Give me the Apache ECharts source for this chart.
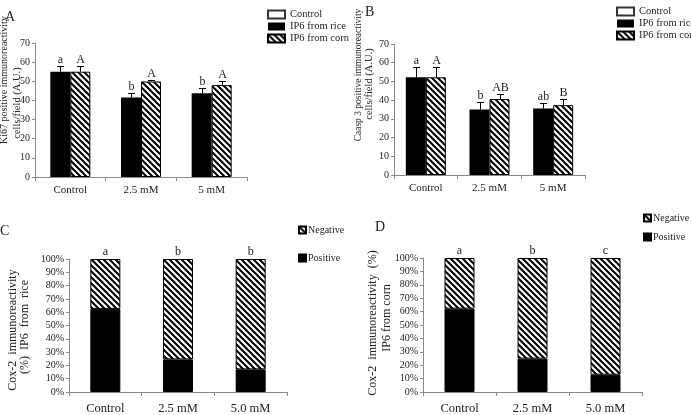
<!DOCTYPE html>
<html>
<head>
<meta charset="utf-8">
<script src="https://cdn.jsdelivr.net/npm/echarts@6/dist/echarts.min.js"></script>
<style>
html, body { margin: 0; padding: 0; background: #fff; }
#chart { width: 691px; height: 415px; }
</style>
</head>
<body>
<div id="chart"></div>
<script>
// categories
var doseAB = ['Control', '2.5 mM', '5 mM'];
var doseCD = ['Control', '2.5 mM', '5.0 mM'];

// A: Ki67 positive cells/field
var riceA = [55, 41.5, 43.8];
var riceErrA = [2.9, 2.4, 2.6];
var cornA = [55, 49.9, 48];
var cornErrA = [2.9, 0.9, 2.4];
var riceLetA = ['a', 'b', 'b'];
var cornLetA = ['A', 'A', 'A'];

// B: Casp 3 positive cells/field
var riceB = [52.2, 35, 35.5];
var riceErrB = [5.6, 3.9, 3.1];
var cornB = [52.2, 40.6, 37.3];
var cornErrB = [5.6, 2.5, 3.3];
var riceLetB = ['a', 'b', 'ab'];
var cornLetB = ['A', 'AB', 'B'];

// C: Cox-2, IP6 from rice (%)
var posC = [62.5, 24.5, 17];
var negC = [37.5, 75.5, 83];
var letC = ['a', 'b', 'b'];

// D: Cox-2, IP6 from corn (%)
var posD = [62.2, 24.9, 12.9];
var negD = [37.8, 75.1, 87.1];
var letD = ['a', 'b', 'c'];

var serif = 'Liberation Serif';
var ink = '#222';
var axisGrey = '#8a8a8a';

function makeHatch() {
    var c = document.createElement('canvas');
    c.width = 6;
    c.height = 6;
    var ctx = c.getContext('2d');
    ctx.fillStyle = '#fff';
    ctx.fillRect(0, 0, 6, 6);
    ctx.strokeStyle = '#000';
    ctx.lineWidth = 2;
    ctx.beginPath();
    ctx.moveTo(-1, -1); ctx.lineTo(7, 7);
    ctx.moveTo(-1, 5); ctx.lineTo(1, 7);
    ctx.moveTo(5, -1); ctx.lineTo(7, 1);
    ctx.stroke();
    return c;
}
var hatch = { image: makeHatch(), repeat: 'repeat' };

// upward error bar + significance letter
function errSeries(gi, means, errs, letters, side, barW) {
    return {
        type: 'custom',
        xAxisIndex: gi,
        yAxisIndex: gi,
        z: 5,
        silent: true,
        data: means.map(function (m, i) { return [i, m, errs[i]]; }),
        renderItem: function (params, api) {
            var base = api.coord([api.value(0), api.value(1)]);
            var top = api.coord([api.value(0), api.value(1) + api.value(2)]);
            var x = Math.round(base[0] + side * barW / 2) + 0.5;
            var yt = Math.round(top[1]) + 0.5;
            return {
                type: 'group',
                children: [
                    { type: 'line', shape: { x1: x, y1: base[1], x2: x, y2: yt }, style: { stroke: '#000', lineWidth: 1 } },
                    { type: 'line', shape: { x1: x - 3.5, y1: yt, x2: x + 3.5, y2: yt }, style: { stroke: '#000', lineWidth: 1 } },
                    { type: 'text', style: { text: letters[params.dataIndex], x: x, y: yt - 1, textAlign: 'center', textVerticalAlign: 'bottom', font: '12px "' + serif + '"', fill: ink } }
                ]
            };
        }
    };
}

function catAxis(gi, data, size, margin) {
    return {
        type: 'category', gridIndex: gi, data: data,
        axisLine: { lineStyle: { color: axisGrey } },
        axisTick: { show: true, length: 4, lineStyle: { color: axisGrey } },
        axisLabel: { fontFamily: serif, fontSize: size, color: ink, margin: margin, interval: 0 }
    };
}

function valAxis(gi, max, pct) {
    return {
        type: 'value', gridIndex: gi, min: 0, max: max, interval: 10,
        axisLine: { show: true, lineStyle: { color: axisGrey } },
        axisTick: { show: true, length: 3, lineStyle: { color: axisGrey } },
        splitLine: { show: false },
        axisLabel: { fontFamily: serif, fontSize: 10, color: ink, margin: 5, formatter: pct ? '{value}%' : '{value}' }
    };
}

function pairBar(gi, name, data, isHatch) {
    return {
        type: 'bar', name: name, xAxisIndex: gi, yAxisIndex: gi,
        data: data, barWidth: 20, barGap: '0%',
        itemStyle: isHatch ? { color: hatch, borderColor: '#000', borderWidth: 1 } : { color: '#000' }
    };
}

function stackBar(gi, name, data, isHatch, letters) {
    var s = {
        type: 'bar', name: name, xAxisIndex: gi, yAxisIndex: gi, stack: 'p' + gi,
        data: data, barWidth: 30,
        itemStyle: { color: isHatch ? hatch : '#000', borderColor: '#000', borderWidth: 1 }
    };
    if (letters) {
        s.label = {
            show: true, position: 'top', distance: 1,
            fontFamily: serif, fontSize: 12, color: ink,
            formatter: function (p) { return letters[p.dataIndex]; }
        };
    }
    return s;
}

// one rotated line of an axis title
function yTitle(x, y, text, size) {
    return {
        type: 'text', x: x, y: y, rotation: Math.PI / 2,
        style: { text: text, textAlign: 'center', textVerticalAlign: 'middle', font: size + 'px "' + serif + '"', fill: ink }
    };
}

function panelTitle(t, left, top) {
    return { text: t, left: left, top: top, padding: 0, textStyle: { fontFamily: serif, fontSize: 14, fontWeight: 'normal', color: ink } };
}

function legendBox(left, top, gap, names) {
    return {
        orient: 'vertical', left: left, top: top, padding: 0,
        itemWidth: 17, itemHeight: 8, itemGap: gap,
        icon: 'rect', selectedMode: false,
        textStyle: { fontFamily: serif, fontSize: 10.5, color: ink },
        data: names
    };
}

function legendSmall(left, top, gap, names) {
    return {
        orient: 'vertical', left: left, top: top, padding: 0,
        itemWidth: 7, itemHeight: 7, itemGap: gap,
        icon: 'rect', selectedMode: false,
        textStyle: { fontFamily: serif, fontSize: 10, color: ink, padding: [0, 0, 0, -3] },
        data: names
    };
}

var chart = echarts.init(document.getElementById('chart'));

var option = {
    animation: false,
    title: [
        panelTitle('A', 5, 10),
        panelTitle('B', 365, 5),
        panelTitle('C', 0, 224),
        panelTitle('D', 375, 220)
    ],
    legend: [
        legendBox(267, 9, 1, ['Control', 'IP6 from rice', 'IP6 from corn']),
        legendBox(616, 6, 1, ['Control', 'IP6 from rice', 'IP6 from corn']),
        legendSmall(298, 225, 18, ['Negative', 'Positive']),
        legendSmall(643, 213, 9, ['Negative', 'Positive'])
    ],
    grid: [
        { left: 35, top: 43, width: 212, height: 134 },
        { left: 394, top: 44, width: 191, height: 131 },
        { left: 69, top: 259, width: 218, height: 136 },
        { left: 423, top: 258, width: 219, height: 134 }
    ],
    xAxis: [
        catAxis(0, doseAB, 11, 8),
        catAxis(1, doseAB, 11, 8),
        catAxis(2, doseCD, 12.5, 10),
        catAxis(3, doseCD, 12.5, 10)
    ],
    yAxis: [
        valAxis(0, 70, false),
        valAxis(1, 70, false),
        valAxis(2, 100, true),
        valAxis(3, 100, true)
    ],
    graphic: [
        yTitle(4, 80, 'Ki67 positive immunoreactivity', 10),
        yTitle(17, 103, 'cells/field (A.U.)', 10.5),
        yTitle(358, 75, 'Caasp 3 positive immunoreactivity', 9.5),
        yTitle(369, 84, 'cells/field (A.U.)', 10.5),
        yTitle(13, 330, 'Cox-2  immunoreactivity', 12),
        yTitle(25, 327, '(%)  IP6  from  rice', 12),
        yTitle(373, 323, 'Cox-2  immunoreactivity  (%)', 12),
        yTitle(387, 318, 'IP6 from corn', 12)
    ],
    series: [
        { type: 'scatter', name: 'Control', xAxisIndex: 0, yAxisIndex: 0, data: [], itemStyle: { color: '#fff', borderColor: '#000', borderWidth: 1.5 } },
        pairBar(0, 'IP6 from rice', riceA, false),
        pairBar(0, 'IP6 from corn', cornA, true),
        errSeries(0, riceA, riceErrA, riceLetA, -1, 20),
        errSeries(0, cornA, cornErrA, cornLetA, 1, 20),

        pairBar(1, 'IP6 from rice', riceB, false),
        pairBar(1, 'IP6 from corn', cornB, true),
        errSeries(1, riceB, riceErrB, riceLetB, -1, 20),
        errSeries(1, cornB, cornErrB, cornLetB, 1, 20),

        stackBar(2, 'Positive', posC, false),
        stackBar(2, 'Negative', negC, true, letC),
        stackBar(3, 'Positive', posD, false),
        stackBar(3, 'Negative', negD, true, letD)
    ]
};

chart.setOption(option);
</script>
</body>
</html>
